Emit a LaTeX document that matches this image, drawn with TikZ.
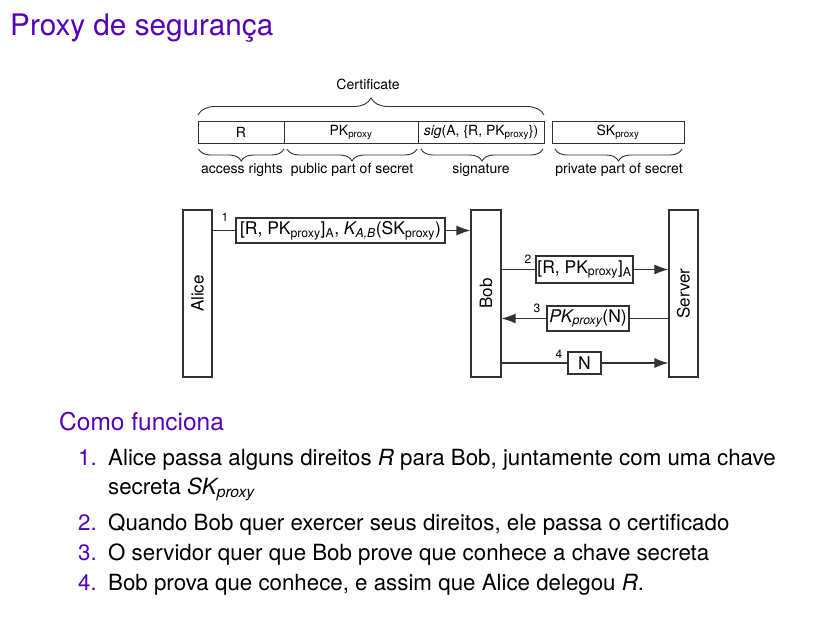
\documentclass[tikz,border=0pt]{standalone}
\usepackage{fontspec}
\setmainfont{TeX Gyre Heros}
\usetikzlibrary{arrows.meta,decorations.pathreplacing}
\definecolor{struct}{RGB}{85,0,187}
\definecolor{dline}{RGB}{50,50,50}
\newcommand\sbs[1]{\textsubscript{#1}}
\begin{document}
\begin{tikzpicture}[x=1pt,y=-1pt,
  cell/.style={draw=dline,line width=1pt,inner sep=1pt,minimum height=22pt,font=\fontsize{14}{16}\selectfont},
  lbl/.style={inner sep=0pt,font=\fontsize{14}{16}\selectfont},
  actor/.style={draw=dline,line width=1.1pt,minimum height=167pt,inner sep=0pt},
  msg/.style={draw=dline,line width=1.1pt,inner sep=1pt,fill=white,font=\fontsize{17.5}{20}\selectfont},
  num/.style={inner sep=0pt,font=\fontsize{12}{13}\selectfont},
  conn/.style={dline,line width=1.2pt},
  arr/.style={dline,line width=1.2pt,-{Latex[length=14pt,width=10pt]}},
  brc/.style={dline,line width=0.9pt,decorate},
  body/.style={inner sep=0pt,anchor=base west,font=\fontsize{22.3}{25}\selectfont},
  bnum/.style={inner sep=0pt,anchor=base west,text=struct,font=\fontsize{22.3}{25}\selectfont}
]
\useasboundingbox (0,0) rectangle (814,616);
% title
\node[inner sep=0pt,anchor=base west,text=struct,font=\fontsize{29.7}{32}\selectfont] (title) at (10,35) {Proxy de segurança};
% certificate
\node[cell,minimum width=86pt] (cR) at (241,132.5) {R};
\node[cell,minimum width=134pt] (cPK) at (351,132.5) {PK\sbs{proxy}};
\node[cell,minimum width=126pt] (cSig) at (481,132.5) {\textit{sig}(A, \{R, PK\sbs{proxy}\})};
\node[cell,minimum width=132pt] (cSK) at (618,132.5) {SK\sbs{proxy}};
\draw[brc,decoration={brace,amplitude=17pt}] (198,115) -- (544,115);
\node[lbl] (cert) at (368,84) {Certificate};
\draw[brc,decoration={brace,mirror,amplitude=12pt}] (198.5,149) -- (284,149);
\draw[brc,decoration={brace,mirror,amplitude=12pt}] (287,149) -- (417,149);
\draw[brc,decoration={brace,mirror,amplitude=12pt}] (421,149) -- (543,149);
\draw[brc,decoration={brace,mirror,amplitude=12pt}] (555,149) -- (682,149);
\node[lbl] (l1) at (242,170) {access rights};
\node[lbl] (l2) at (352,170) {public part of secret};
\node[lbl] (l3) at (481,170) {signature};
\node[lbl] (l4) at (619,170) {private part of secret};
% actors
\node[actor,minimum width=29pt] (alice) at (197.5,293.5) {};
\node[actor,minimum width=30pt] (bob) at (486,293.5) {};
\node[actor,minimum width=29pt] (server) at (683.5,293.5) {};
\node[rotate=90,font=\fontsize{17}{19}\selectfont,inner sep=0pt] (aliceT) at (alice.center) {Alice};
\node[rotate=90,font=\fontsize{17}{19}\selectfont,inner sep=0pt] (bobT) at (bob.center) {Bob};
\node[rotate=90,font=\fontsize{17}{19}\selectfont,inner sep=0pt] (serverT) at (server.center) {Server};
% messages
\node[msg,minimum width=209pt,minimum height=25pt] (m1) at (340.5,230.5) {[R, PK\sbs{proxy}]\sbs{A}, \textit{K\sbs{A,B}}(SK\sbs{proxy})};
\node[msg,minimum width=97pt,minimum height=27pt] (m2) at (584.5,269.5) {[R, PK\sbs{proxy}]\sbs{A}};
\node[msg,minimum width=82pt,minimum height=25pt] (m3) at (588,318.5) {\textit{PK\sbs{proxy}}(N)};
\node[msg,minimum width=33pt,minimum height=22pt] (m4) at (584.5,363) {N};
\draw[conn] (m1.west -| alice.east) -- (m1.west);
\draw[arr] (m1.east) -- (m1.east -| bob.west);
\draw[conn] (m2.west -| bob.east) -- (m2.west);
\draw[arr] (m2.east) -- (m2.east -| server.west);
\draw[conn] (m3.east -| server.west) -- (m3.east);
\draw[arr] (m3.west) -- (m3.west -| bob.east);
\draw[conn] (m4.west -| bob.east) -- (m4.west);
\draw[arr] (m4.east) -- (m4.east -| server.west);
\node[num] (n1) at (225,217) {1};
\node[num] (n2) at (528,259) {2};
\node[num] (n3) at (537,308) {3};
\node[num] (n4) at (559,354) {4};
% text
\node[inner sep=0pt,anchor=base west,text=struct,font=\fontsize{24.5}{28}\selectfont] (como) at (59,430) {Como funciona};
\node[bnum] (i1) at (78,465) {1.};
\node[body] (t1) at (108,465) {Alice passa alguns direitos \textit{R} para Bob, juntamente com uma chave};
\node[body] (t1b) at (108,494) {secreta \textit{SK\sbs{proxy}}};
\node[bnum] (i2) at (78,530) {2.};
\node[body] (t2) at (108,530) {Quando Bob quer exercer seus direitos, ele passa o certificado};
\node[bnum] (i3) at (78,560) {3.};
\node[body] (t3) at (108,560) {O servidor quer que Bob prove que conhece a chave secreta};
\node[bnum] (i4) at (78,590) {4.};
\node[body] (t4) at (108,590) {Bob prova que conhece, e assim que Alice delegou \textit{R}.};
\end{tikzpicture}
\end{document}
